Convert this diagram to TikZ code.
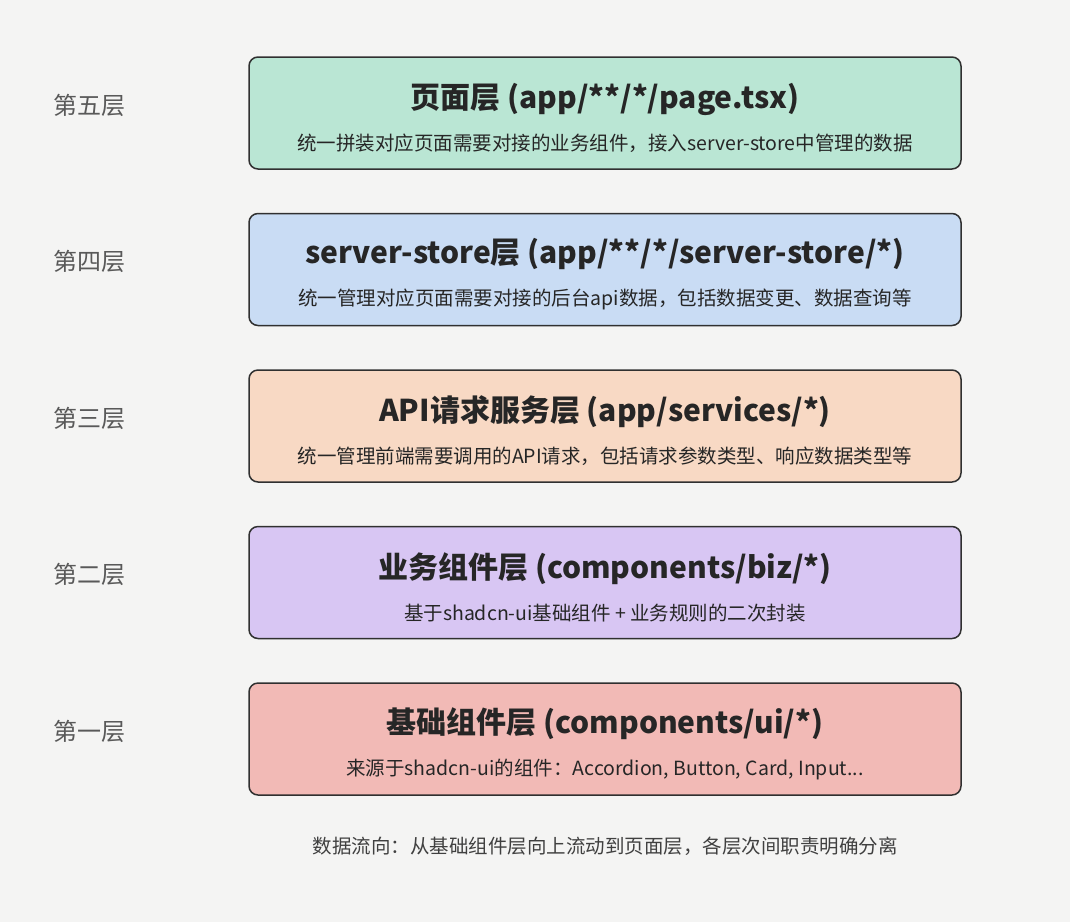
\documentclass[tikz,border=0pt]{standalone}
\usepackage{fontspec}
\usepackage{xcolor}
\usepackage{tikz}
\usetikzlibrary{positioning}
\newfontfamily\cjk{Noto Sans CJK SC}
\definecolor{PaperGray}{RGB}{244,244,243}
\definecolor{EdgeGray}{RGB}{48,48,48}
\definecolor{SoftMint}{RGB}{186,230,212}
\definecolor{SoftSky}{RGB}{201,220,244}
\definecolor{SoftPeach}{RGB}{248,217,196}
\definecolor{SoftLilac}{RGB}{216,198,243}
\definecolor{SoftRose}{RGB}{242,186,182}
\newcommand{\ttl}[1]{{\fontsize{30}{34}\selectfont\bfseries\rule{0pt}{35pt}#1}}
\newcommand{\dsc}[1]{{\fontsize{19.5}{23}\selectfont #1}}

\begin{document}
\begin{tikzpicture}[
  x=1pt,y=1pt,
  node distance=43pt,
  layer/.style={draw=EdgeGray,line width=1.5pt,rounded corners=9pt,align=center,
    minimum width=712pt,minimum height=112pt,inner sep=0pt,font=\cjk,text=black!85},
  page/.style={layer,fill=SoftMint},
  store/.style={layer,fill=SoftSky},
  api/.style={layer,fill=SoftPeach},
  biz/.style={layer,fill=SoftLilac},
  base/.style={layer,fill=SoftRose},
  lvl/.style={font={\cjk\fontsize{24}{28}\selectfont},text=black!65},
  note/.style={font={\cjk\fontsize{19.5}{23}\selectfont},text=black!75}
]
\useasboundingbox[fill=PaperGray] (0,0) rectangle (1070,-922);
\node[page] (l5) at (605,-113) {\ttl{页面层 (app/**/*/page.tsx)}\\[18pt]\dsc{统一拼装对应页面需要对接的业务组件，接入server-store中管理的数据}};
\node[store,below=of l5] (l4) {\ttl{server-store层 (app/**/*/server-store/*)}\\[18pt]\dsc{统一管理对应页面需要对接的后台api数据，包括数据变更、数据查询等}};
\node[api,below=of l4] (l3) {\ttl{API请求服务层 (app/services/*)}\\[18pt]\dsc{统一管理前端需要调用的API请求，包括请求参数类型、响应数据类型等}};
\node[biz,below=of l3] (l2) {\ttl{业务组件层 (components/biz/*)}\\[18pt]\dsc{基于shadcn-ui基础组件 + 业务规则的二次封装}};
\node[base,below=of l2] (l1) {\ttl{基础组件层 (components/ui/*)}\\[18pt]\dsc{来源于shadcn-ui的组件：Accordion, Button, Card, Input...}};
\node[lvl,left=119pt of l5,yshift=8pt] (n5) {第五层};
\node[lvl,left=119pt of l4,yshift=8pt] (n4) {第四层};
\node[lvl,left=119pt of l3,yshift=8pt] (n3) {第三层};
\node[lvl,left=119pt of l2,yshift=8pt] (n2) {第二层};
\node[lvl,left=119pt of l1,yshift=8pt] (n1) {第一层};
\node[note,below=38pt of l1] (flow) {数据流向：从基础组件层向上流动到页面层，各层次间职责明确分离};
\end{tikzpicture}
\end{document}
